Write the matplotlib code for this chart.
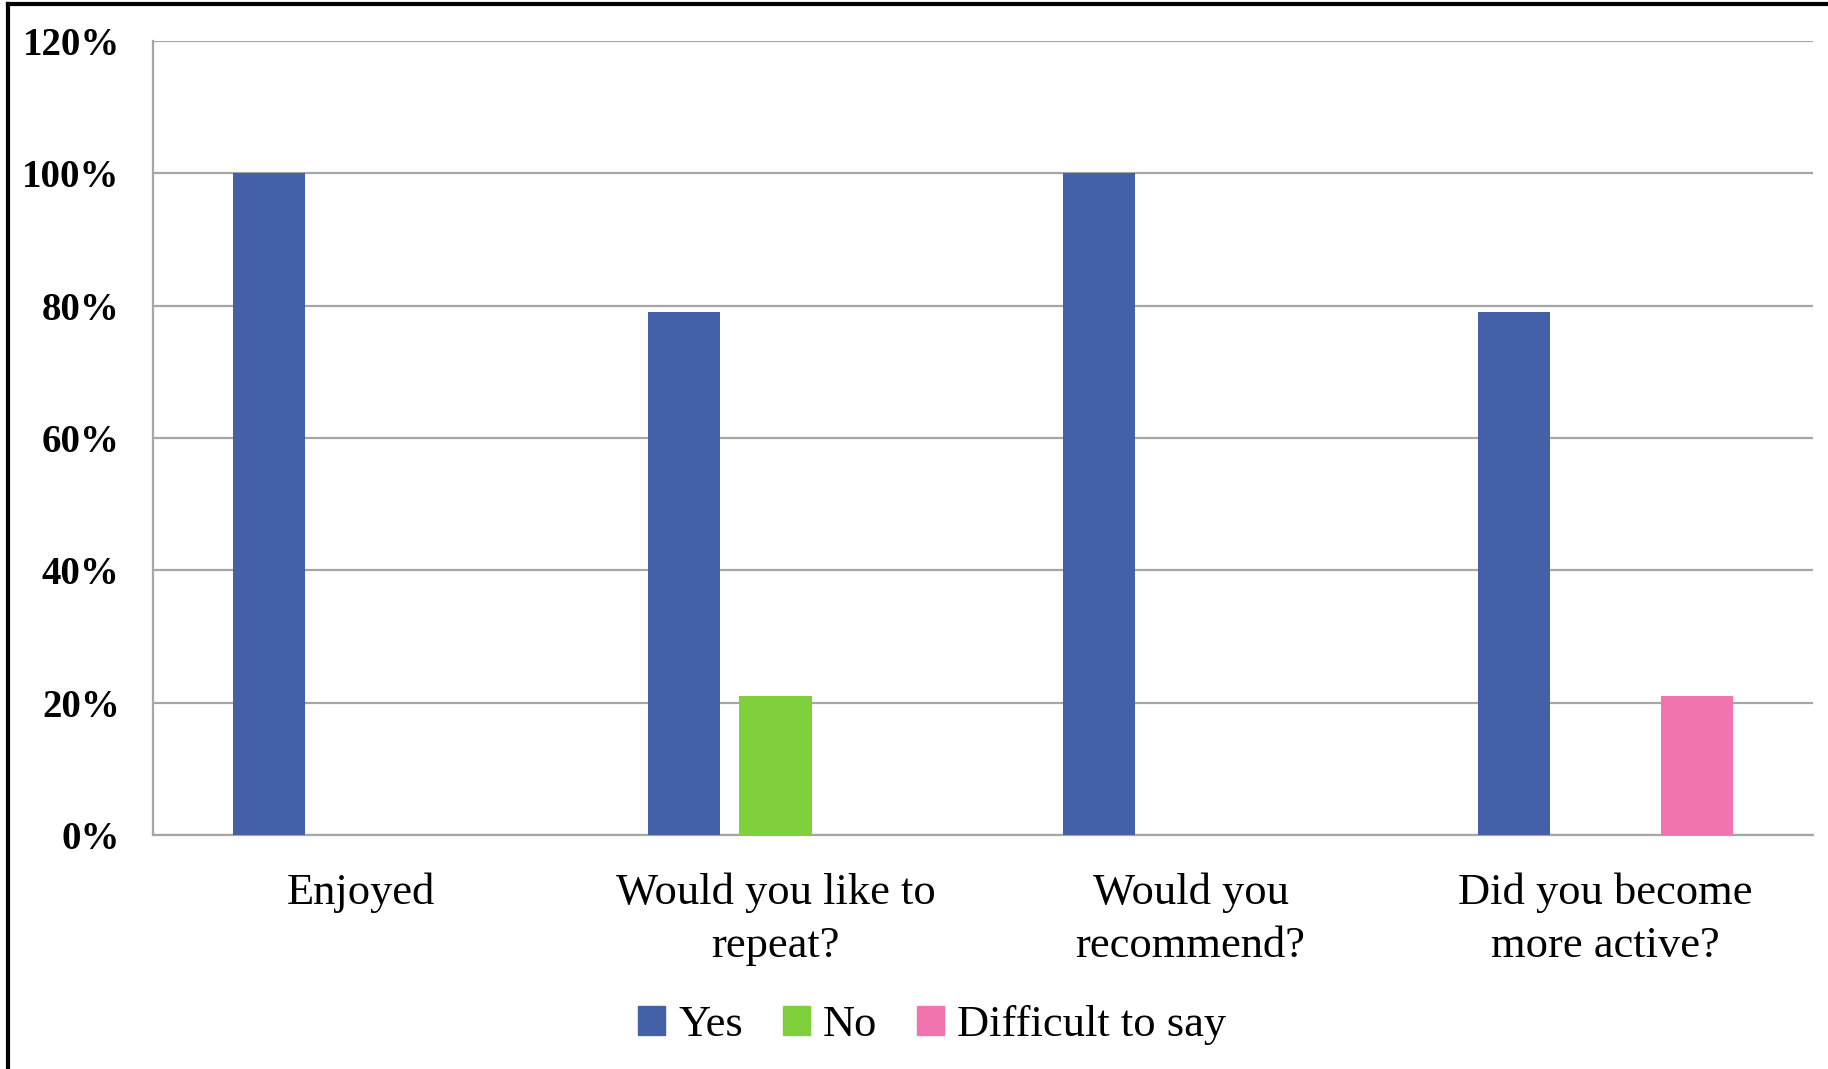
import matplotlib.pyplot as plt
import numpy as np
from matplotlib.lines import Line2D

# survey answers, share of respondents
categories = ['Enjoyed', 'Would you like to\nrepeat?', 'Would you\nrecommend?',
              'Did you become\nmore active?']
yes = [1.00, 0.79, 1.00, 0.79]
no = [0.0, 0.21, 0.0, 0.0]
difficult = [0.0, 0.0, 0.0, 0.21]
series_names = ['Yes', 'No', 'Difficult to say']
colors = ['#4360A9', '#80D03C', '#F274AE']
yticks = [0, 0.2, 0.4, 0.6, 0.8, 1.0, 1.2]

plt.rcParams['font.family'] = ['Liberation Serif', 'DejaVu Serif']

fig = plt.figure(figsize=(18.28, 10.69), dpi=100)
ax = fig.add_axes([0.0837, 0.2189, 0.9081, 0.7427])

x = np.arange(len(categories))
w = 0.174
step = 0.22
for i, (vals, name, c) in enumerate(zip([yes, no, difficult], series_names, colors)):
    v = np.array(vals)
    # empty answers are not drawn at all
    mask = v > 0
    ax.bar(x[mask] + (i - 1) * step, v[mask], width=w, color=c, zorder=3)

ax.set_xlim(-0.5, 3.5)
ax.set_ylim(0, 1.2)
ax.set_yticks(yticks)
ax.set_yticklabels([f'{int(round(t * 100))}%' for t in yticks],
                   fontsize=28, fontweight='bold')
ax.set_xticks(x)
ax.set_xticklabels(categories, fontsize=32, linespacing=1.42)
ax.tick_params(axis='y', length=0, pad=24)
ax.tick_params(axis='x', length=0, pad=27)
ax.yaxis.grid(True, color='#A6A6A6', linewidth=1.6, zorder=0)
ax.set_axisbelow(True)
for s in ['top', 'right']:
    ax.spines[s].set_visible(False)
for s in ['left', 'bottom']:
    ax.spines[s].set_color('#A6A6A6')
    ax.spines[s].set_linewidth(1.6)

handles = [plt.Rectangle((0, 0), 1, 1, color=c) for c in colors]
fig.legend(handles, series_names, loc='center', bbox_to_anchor=(0.51, 0.041),
           ncol=3, frameon=False, fontsize=32, handlelength=0.6, handleheight=0.6,
           handletextpad=0.3, columnspacing=0.9)

# outer frame, only top and left edges are visible
fig.add_artist(Line2D([0.0045, 1.0], [0.9965, 0.9965], color='black', linewidth=3,
                      transform=fig.transFigure))
fig.add_artist(Line2D([0.0045, 0.0045], [0.0, 0.9965], color='black', linewidth=3,
                      transform=fig.transFigure))

fig.savefig('out.png', dpi=100)
